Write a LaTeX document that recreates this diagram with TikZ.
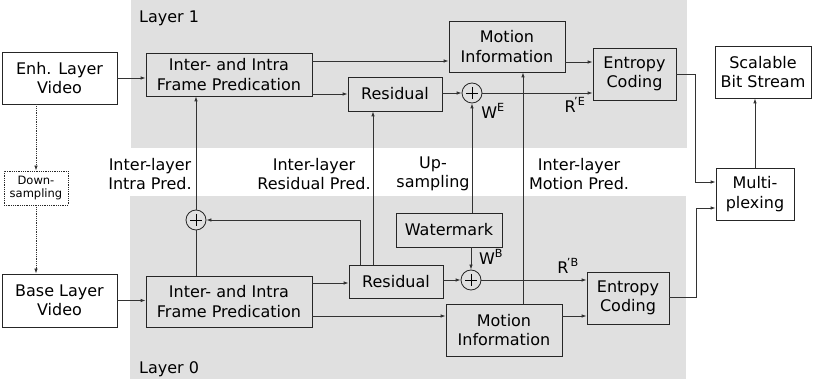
\documentclass[tikz,border=0pt]{standalone}
\usepackage{fontspec}
\setmainfont{DejaVu Sans}
\usetikzlibrary{arrows.meta}
\begin{document}
\begin{tikzpicture}[x=1pt,y=-1pt,
  every node/.style={font=\fontsize{16}{19.5}\selectfont, inner sep=0pt},
  blk/.style={draw=black!85, line width=0.8pt, align=center},
  wblk/.style={blk, fill=white},
  sumc/.style={draw=black!85, line width=0.8pt, circle, minimum size=20pt},
  lbl/.style={align=center},
  arr/.style={draw=black!80, line width=0.8pt, -{Latex[length=5pt,width=3.5pt]}},
  ln/.style={draw=black!80, line width=0.8pt},
  dotarr/.style={draw=black!80, line width=0.8pt, densely dotted, -{Latex[length=5pt,width=3.5pt]}}]
\useasboundingbox (0,0) rectangle (814,379);
\fill[black!12] (131,0) rectangle (687,148);
\fill[black!12] (130,196) rectangle (686,379);
\node[anchor=base west] (l1) at (139,22.5) {Layer 1};
\node[anchor=base west] (l0) at (139,373) {Layer 0};
% layer 1
\node[wblk, minimum width=115pt, minimum height=52pt] (enh) at (59.5,78) {Enh. Layer\\Video};
\node[blk, minimum width=166pt, minimum height=43pt] (interT) at (229,74.5) {Inter- and Intra\\Frame Predication};
\node[blk, minimum width=94pt, minimum height=34pt] (resT) at (395,94) {Residual};
\node[sumc] (plusT) at (472,93) {};
\draw[line width=0.8pt] (plusT.center) ++(-6,0) -- ++(12,0) (plusT.center) ++(0,-6) -- ++(0,12);
\node[blk, minimum width=116pt, minimum height=51pt] (motT) at (507,46.5) {Motion\\Information};
\node[blk, minimum width=83pt, minimum height=52pt] (entT) at (634.5,74) {Entropy\\Coding};
\node[wblk, minimum width=96pt, minimum height=52pt] (sbs) at (763,72) {Scalable\\Bit Stream};
\node[wblk, minimum width=78pt, minimum height=52pt] (mux) at (755,194) {Multi-\\plexing};
\node[wblk, densely dotted, minimum width=64pt, minimum height=34pt, font=\fontsize{11.5}{13}\selectfont] (down) at (36,188) {Down-\\sampling};
% layer 0
\node[wblk, minimum width=115pt, minimum height=53pt] (base) at (59.5,300.5) {Base Layer\\Video};
\node[blk, minimum width=166pt, minimum height=51pt] (interB) at (229,301.5) {Inter- and Intra\\Frame Predication};
\node[sumc] (plusL) at (196,220) {};
\draw[line width=0.8pt] (plusL.center) ++(-6,0) -- ++(12,0) (plusL.center) ++(0,-6) -- ++(0,12);
\node[blk, minimum width=94pt, minimum height=33pt] (resB) at (396,281.5) {Residual};
\node[blk, minimum width=106pt, minimum height=34pt] (wm) at (449,230) {Watermark};
\node[sumc] (plusB) at (471,280) {};
\draw[line width=0.8pt] (plusB.center) ++(-6,0) -- ++(12,0) (plusB.center) ++(0,-6) -- ++(0,12);
\node[blk, minimum width=82pt, minimum height=52pt] (entB) at (628,298) {Entropy\\Coding};
\node[blk, minimum width=116pt, minimum height=52pt] (motB) at (504,330) {Motion\\Information};
% labels
\node[lbl] (lab1) at (150,174) {Inter-layer\\Intra Pred.};
\node[lbl] (lab2) at (314,174) {Inter-layer\\Residual Pred.};
\node[lbl] (lab3) at (433,174) {Up-\\sampling};
\node[lbl] (lab4) at (579,174) {Inter-layer\\Motion Pred.};
\node (we) at (493,111) {W\textsuperscript{E}};
\node (re) at (575,105) {R\textsuperscript{\kern-1.5pt'E}};
\node (wb) at (491,257) {W\textsuperscript{B}};
\node (rb) at (568,266) {R\textsuperscript{\kern-1.5pt'B}};
% connectors layer 1
\draw[arr] (enh.east) -- (enh.east -| interT.west);
\draw[arr] (interT.east |- resT) -- (resT.west);
\draw[arr] (interT.east |- 0,61) -- (motT.west |- 0,61);
\draw[arr] (motT.east |- 0,62) -- (entT.west |- 0,62);
\draw[arr] (resT.east |- plusT) -- (plusT.west);
\draw[arr] (plusT.east) -- (entT.west |- plusT);
\draw[arr] (entT.east |- 0,74) -- (695,74) |- ([yshift=12pt]mux.west);
\draw[arr] (entB.east |- 0,297) -- (696,297) |- ([yshift=-14pt]mux.west);
\draw[arr] (mux.north) -- (sbs.south -| mux.north);
% dotted
\draw[dotarr] (enh.south -| down) -- (down.north);
\draw[dotarr] (down.south) -- (base.north -| down);
% layer 0
\draw[arr] (base.east) -- (base.east -| interB.west);
\draw[arr] (interB.east |- 0,283) -- (resB.west |- 0,283);
\draw[arr] (interB.east |- 0,316) -- (motB.west |- 0,316);
\draw[arr] (motB.east |- 0,316) -- (entB.west |- 0,316);
\draw[arr] (resB.east |- plusB) -- (plusB.west);
\draw[arr] (plusB.east) -- (entB.west |- plusB);
\draw[arr] (wm.south -| plusB) -- (plusB.north);
\draw[arr] (wm.north -| plusT) -- (plusT.south);
\draw[arr] (motB.north -| 523,0) -- (motT.south -| 523,0);
\draw[arr] (resB.north -| 373,0) -- (resT.south -| 373,0);
\draw[arr] (resB.north -| 360,0) |- (plusL.east);
\draw[ln] (interB.north -| plusL) -- (plusL.south);
\draw[arr] (plusL.north) -- (interT.south -| plusL);
\end{tikzpicture}
\end{document}
